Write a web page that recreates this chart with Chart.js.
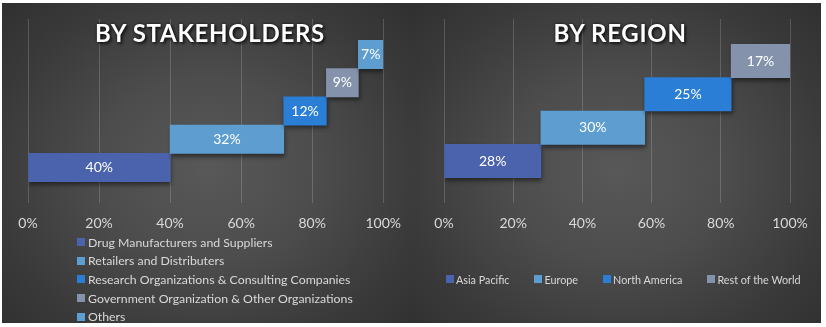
<!DOCTYPE html>
<html>
<head>
<meta charset="utf-8">
<script src="https://cdn.jsdelivr.net/npm/chart.js@4.4.1/dist/chart.umd.min.js"></script>
<style>
  html, body { margin: 0; padding: 0; background: #ffffff; }
  body { width: 826px; height: 327px; position: relative; overflow: hidden; font-family: Lato, "Open Sans", sans-serif; }
  .panel { position: absolute; top: 3px; height: 320px; }
  #panelA { left: 2px; width: 411px;
    background: radial-gradient(ellipse 75% 80% at 50% 52%, #585858 0%, #4d4d4d 35%, #3a3a3a 70%, #2d2d2d 100%); }
  #panelB { left: 413px; width: 408px;
    background: radial-gradient(ellipse 75% 80% at 50% 52%, #585858 0%, #4d4d4d 35%, #3a3a3a 70%, #2d2d2d 100%); }
  canvas { position: absolute; left: 0; top: 0; }
  .title { position: absolute; top: 15px; transform: translateX(-50%); white-space: nowrap;
    color: #ffffff; font-weight: 700; font-size: 24px; letter-spacing: 0.7px;
    text-shadow: 0 0 3px rgba(0,0,0,0.8), 2px 2px 3px rgba(0,0,0,0.6); }
  .legend { position: absolute; color: #d9d9d9; }
  .legend .item { display: flex; align-items: center; white-space: nowrap; }
  .legend .box { width: 8px; height: 8px; margin-right: 3px; flex: none; }
  #legendA { left: 75px; top: 230px; font-size: 12.3px; }
  #legendA .item { height: 18.6px; }
  #legendB { left: 33px; top: 266px; display: flex; gap: 25px; font-size: 10.8px; }
  #legendB .item { height: 20px; }
  #legendB .box { margin-right: 2px; }
</style>
</head>
<body>
<div class="panel" id="panelA">
  <canvas id="chartA" width="411" height="320"></canvas>
  <div class="title" style="left:208px">BY STAKEHOLDERS</div>
  <div class="legend" id="legendA"></div>
</div>
<div class="panel" id="panelB">
  <canvas id="chartB" width="408" height="320"></canvas>
  <div class="title" style="left:207px">BY REGION</div>
  <div class="legend" id="legendB"></div>
</div>
<script>
// Market share by stakeholder (%)
const stakeholderLabels = [
  'Drug Manufacturers and Suppliers',
  'Retailers and Distributers',
  'Research Organizations & Consulting Companies',
  'Government Organization & Other Organizations',
  'Others'
];
const stakeholderShares = [40, 32, 12, 9, 7];
const stakeholderColors = ['#4a63ac', '#5d9dd0', '#2a7ed6', '#8492ab', '#5d9dd0'];

// Market share by region (%)
const regionLabels = ['Asia Pacific', 'Europe', 'North America', 'Rest of the World'];
const regionShares = [28, 30, 25, 17];
const regionColors = ['#4a63ac', '#5d9dd0', '#2a7ed6', '#8492ab'];

// Horizontal axis tick labels
const tickLabels = ['0%', '20%', '40%', '60%', '80%', '100%'];

// Drop shadow under the bars, then the value text on top of each bar
const barDecor = {
  id: 'barDecor',
  beforeDatasetsDraw(chart) {
    const ctx = chart.ctx;
    ctx.save();
    ctx.shadowColor = 'rgba(0,0,0,0.45)';
    ctx.shadowBlur = 4;
    ctx.shadowOffsetX = 1;
    ctx.shadowOffsetY = 3;
  },
  afterDatasetsDraw(chart) {
    const ctx = chart.ctx;
    ctx.restore();
    ctx.save();
    ctx.fillStyle = '#ffffff';
    ctx.font = '14px Lato, "Open Sans", sans-serif';
    ctx.textAlign = 'center';
    ctx.textBaseline = 'middle';
    const ds = chart.data.datasets[0];
    chart.getDatasetMeta(0).data.forEach((bar, i) => {
      const c = bar.getCenterPoint();
      ctx.fillText(ds.data[i].v + '%', c.x, c.y);
    });
    ctx.restore();
  }
};

function buildChart(canvasId, shares, colors, padLeft, padRight) {
  // each segment starts where the previous one ends
  let start = 0;
  const points = shares.map((v, i) => {
    const p = { y: i, x: [start, start + v], v: v };
    start += v;
    return p;
  });
  const n = shares.length;
  const margin = 0.76;
  return new Chart(document.getElementById(canvasId), {
    type: 'bar',
    data: {
      datasets: [{
        data: points,
        backgroundColor: colors,
        borderWidth: 0,
        categoryPercentage: 1,
        barPercentage: 1
      }]
    },
    options: {
      indexAxis: 'y',
      responsive: false,
      animation: false,
      layout: { padding: { left: padLeft, right: padRight, top: 16, bottom: 0 } },
      plugins: { legend: { display: false }, tooltip: { enabled: false } },
      scales: {
        x: {
          type: 'linear',
          min: 0,
          max: 100,
          grid: { color: 'rgba(255,255,255,0.17)', drawTicks: false },
          border: { display: false },
          ticks: {
            stepSize: 20,
            padding: 12,
            color: '#d9d9d9',
            font: { family: 'Lato', size: 14 },
            callback: (value, index) => tickLabels[index]
          },
          afterFit: (scale) => { scale.height = 120; }
        },
        y: {
          type: 'linear',
          display: false,
          offset: false,
          min: -0.5 - margin,
          max: n - 0.5 + margin,
          afterBuildTicks: (scale) => { scale.ticks = shares.map((_, i) => ({ value: i })); }
        }
      }
    },
    plugins: [barDecor]
  });
}

function buildLegend(elId, labels, colors) {
  const el = document.getElementById(elId);
  labels.forEach((label, i) => {
    const item = document.createElement('div');
    item.className = 'item';
    const box = document.createElement('span');
    box.className = 'box';
    box.style.background = colors[i];
    const text = document.createElement('span');
    text.textContent = label;
    item.appendChild(box);
    item.appendChild(text);
    el.appendChild(item);
  });
}

buildChart('chartA', stakeholderShares, stakeholderColors, 26, 28);
buildChart('chartB', regionShares, regionColors, 31, 31);
buildLegend('legendA', stakeholderLabels, stakeholderColors);
buildLegend('legendB', regionLabels, regionColors);
</script>
</body>
</html>
